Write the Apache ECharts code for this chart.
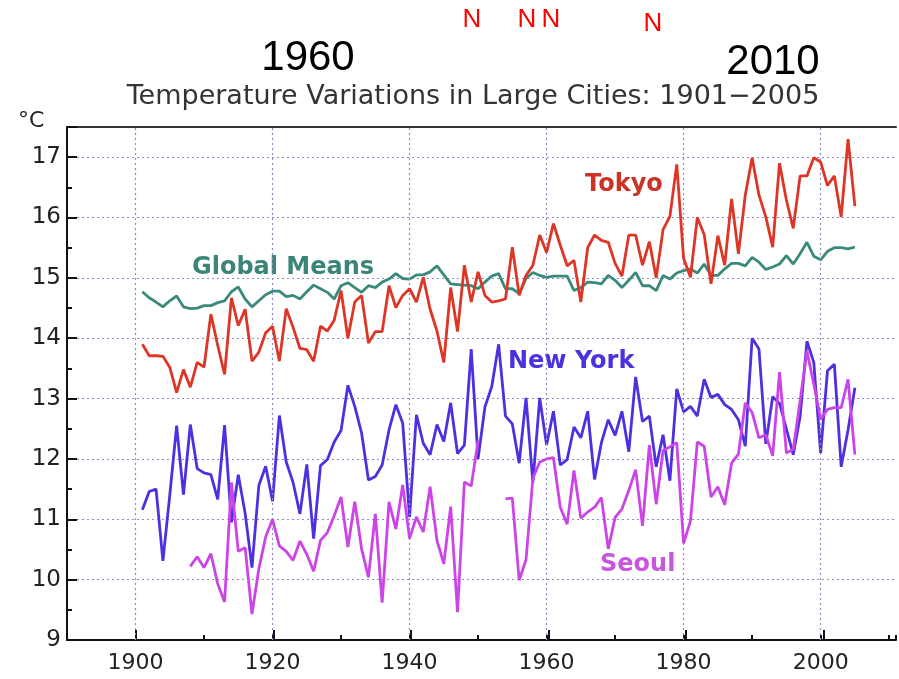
<!DOCTYPE html>
<html>
<head>
<meta charset="utf-8">
<script src="https://cdn.jsdelivr.net/npm/echarts@6/dist/echarts.min.js"></script>
<style>html,body{margin:0;padding:0;background:#fff}#c{width:899px;height:679px}</style>
</head>
<body>
<div id="c"></div>
<script>
const years = Array.from({length: 105}, (_, i) => 1901 + i);

const tokyo = [
13.9,13.71,13.71,13.7,13.52,13.1,13.48,13.19,13.6,13.52,
14.4,13.88,13.4,14.67,14.21,14.48,13.62,13.77,14.09,14.2,
13.62,14.49,14.18,13.83,13.81,13.62,14.2,14.12,14.3,14.79,
14.0,14.6,14.71,13.92,14.11,14.11,14.87,14.51,14.71,14.82,
14.6,15.01,14.48,14.12,13.6,14.84,14.11,15.21,14.6,15.1,
14.71,14.6,14.62,14.65,15.51,14.71,15.04,15.21,15.71,15.42,
15.9,15.54,15.2,15.29,14.6,15.5,15.71,15.62,15.59,15.24,
15.03,15.71,15.71,15.21,15.6,15.0,15.8,16.02,16.88,15.32,
15.01,16.0,15.72,14.9,15.7,15.21,16.31,15.4,16.37,16.99,
16.37,16.01,15.51,16.9,16.29,15.82,16.69,16.69,16.99,16.92,
16.53,16.69,16.01,17.3,16.19];

const globalMeans = [
14.77,14.67,14.6,14.52,14.62,14.7,14.52,14.49,14.5,14.54,
14.54,14.59,14.62,14.77,14.85,14.65,14.52,14.62,14.72,14.78,
14.78,14.69,14.71,14.65,14.77,14.88,14.82,14.76,14.65,14.87,
14.92,14.84,14.76,14.87,14.84,14.93,14.98,15.07,14.99,14.98,
15.05,15.05,15.1,15.2,15.05,14.9,14.89,14.88,14.87,14.82,
14.93,15.03,15.07,14.82,14.82,14.74,14.99,15.09,15.04,15.01,
15.03,15.03,15.03,14.79,14.84,14.93,14.92,14.9,15.04,14.96,
14.84,14.96,15.09,14.87,14.87,14.79,15.04,14.98,15.08,15.12,
15.15,15.08,15.23,15.04,15.04,15.15,15.24,15.24,15.2,15.34,
15.26,15.14,15.18,15.23,15.37,15.23,15.4,15.59,15.36,15.3,
15.44,15.5,15.5,15.48,15.51];

const newYork = [
11.16,11.46,11.5,10.31,11.4,12.55,11.41,12.57,11.84,11.77,
11.74,11.33,12.56,10.95,11.74,11.1,10.2,11.56,11.88,11.3,
12.72,11.95,11.61,11.09,11.91,10.68,11.89,11.99,12.28,12.47,
13.22,12.87,12.43,11.65,11.71,11.9,12.48,12.9,12.59,11.04,
12.73,12.26,12.07,12.57,12.29,12.93,12.09,12.23,13.82,12.0,
12.86,13.2,13.9,12.71,12.58,11.93,13.01,11.61,13.01,12.23,
12.79,11.9,11.99,12.53,12.35,12.79,11.66,12.27,12.65,12.39,
12.79,12.12,13.36,12.62,12.71,11.87,12.4,11.64,13.16,12.78,
12.87,12.71,13.32,13.02,13.07,12.9,12.82,12.65,12.21,14.0,
13.82,12.25,13.03,12.92,12.5,12.07,12.7,13.95,13.6,12.1,
13.46,13.57,11.87,12.48,13.18];

const seoul = [
null,null,null,null,null,null,null,10.22,10.38,10.2,
10.43,9.93,9.63,11.61,10.47,10.53,9.43,10.18,10.71,11.0,
10.56,10.47,10.32,10.64,10.42,10.14,10.65,10.78,11.06,11.37,
10.54,11.29,10.51,10.04,11.09,9.62,11.29,10.84,11.57,10.68,
11.04,10.79,11.54,10.65,10.26,11.21,9.46,11.62,11.55,12.3,
null,null,null,11.34,11.35,9.99,10.33,11.68,11.95,12.0,
12.02,11.2,10.92,11.81,11.02,11.12,11.2,11.36,10.51,11.03,
11.17,11.48,11.82,10.89,12.23,11.25,12.14,12.2,12.27,10.6,
10.97,12.28,12.21,11.37,11.54,11.24,11.93,12.08,12.93,12.77,
12.35,12.4,12.05,13.44,12.1,12.16,12.96,13.79,13.24,12.66,
12.82,12.85,12.85,13.32,12.07];

const gridYears = [1900, 1920, 1940, 1960, 1980, 2000];

function pairs(arr) { return years.map((y, i) => [y, arr[i]]); }

// layout: plot spans x 67..899 for years 1890..2011
const plotLeft = 67, plotRight = 0, plotTop = 127, plotBottom = 39;
const pxPerYear = (899 - plotLeft - plotRight) / (2011 - 1890);

const gridColor = '#8c8cc8';
const chart = echarts.init(document.getElementById('c'));
const labelFont = 'DejaVu Sans';
const narrow = 'Liberation Sans Narrow, Liberation Sans';

function txt(x, y, text, size, color, opts) {
  return {
    type: 'text', x: x, y: y, silent: true,
    style: Object.assign({text: text, fontSize: size, fill: color, fontFamily: labelFont,
      textAlign: 'left', textVerticalAlign: 'middle'}, (opts || {}))
  };
}

chart.setOption({
  animation: false,
  backgroundColor: '#fff',
  grid: [
    {left: plotLeft, right: plotRight, top: plotTop, bottom: plotBottom},
    {left: plotLeft + 10 * pxPerYear, right: 899 - plotLeft - 110 * pxPerYear, top: plotTop, bottom: plotBottom}
  ],
  xAxis: [{
    gridIndex: 0, type: 'value', min: 1890, max: 2011, interval: 10,
    axisLine: {show: true, lineStyle: {color: '#111', width: 2}},
    axisTick: {show: true, inside: true, length: 5, lineStyle: {color: '#111', width: 2}},
    axisLabel: {margin: 12, fontSize: 22, color: '#222', fontFamily: labelFont,
      formatter: v => (v % 20 === 0 && v >= 1900 && v <= 2000) ? String(v) : ''},
    splitLine: {show: false}
  }, {
    gridIndex: 0, type: 'value', position: 'top', min: 1890, max: 2011,
    axisLine: {show: true, lineStyle: {color: '#333', width: 2}},
    axisTick: {show: false}, axisLabel: {show: false}, splitLine: {show: false}
  }, {
    gridIndex: 1, type: 'value', min: 1900, max: 2000, interval: 20,
    axisLine: {show: false},
    axisTick: {show: true, inside: true, length: 10, lineStyle: {color: '#111', width: 2}},
    axisLabel: {show: false}, splitLine: {show: false}
  }],
  yAxis: [{
    gridIndex: 0, type: 'value', min: 9, max: 17.5, interval: 1,
    axisLine: {show: true, lineStyle: {color: '#111', width: 2}},
    axisTick: {show: true, inside: true, length: 10, lineStyle: {color: '#111', width: 2}},
    minorTick: {show: true, splitNumber: 2, length: 5, lineStyle: {color: '#111', width: 2}},
    axisLabel: {margin: 6, fontSize: 23, color: '#222', fontFamily: labelFont,
      formatter: v => Number.isInteger(v) ? String(v) : ''},
    splitLine: {show: true, lineStyle: {color: gridColor, type: [2, 3], width: 1.2}}
  }, {
    gridIndex: 1, type: 'value', min: 9, max: 17.5, show: false
  }],
  series: [
    {name: 'Global Means', type: 'line', data: pairs(globalMeans), showSymbol: false, z: 3,
      lineStyle: {color: '#3a8a7c', width: 2.8}, itemStyle: {color: '#3a8a7c'},
      markLine: {silent: true, symbol: ['none', 'none'], label: {show: false},
        lineStyle: {color: gridColor, type: [2, 3], width: 1.2},
        data: gridYears.map(y => ({xAxis: y}))}},
    {name: 'New York', type: 'line', data: pairs(newYork), showSymbol: false, z: 4,
      lineStyle: {color: '#4f30e0', width: 2.8}, itemStyle: {color: '#4f30e0'}},
    {name: 'Seoul', type: 'line', data: pairs(seoul), showSymbol: false, connectNulls: false, z: 5,
      lineStyle: {color: '#cc44e8', width: 2.8}, itemStyle: {color: '#cc44e8'}},
    {name: 'Tokyo', type: 'line', data: pairs(tokyo), showSymbol: false, z: 6,
      lineStyle: {color: '#dd3526', width: 2.8}, itemStyle: {color: '#dd3526'}}
  ],
  graphic: [
    txt(473, 97, 'Temperature Variations in Large Cities: 1901\u22122005', 27, '#333', {textAlign: 'center'}),
    txt(18, 121, '\u00B0C', 22, '#222'),
    txt(308, 58, '1960', 42, '#000', {textAlign: 'center', fontFamily: narrow}),
    txt(773, 62, '2010', 42, '#000', {textAlign: 'center', fontFamily: narrow}),
    txt(472, 20, 'N', 26, '#ff0000', {textAlign: 'center', fontFamily: narrow}),
    txt(527, 20, 'N', 26, '#ff0000', {textAlign: 'center', fontFamily: narrow}),
    txt(551, 20, 'N', 26, '#ff0000', {textAlign: 'center', fontFamily: narrow}),
    txt(653, 24, 'N', 26, '#ff0000', {textAlign: 'center', fontFamily: narrow}),
    txt(585, 185, 'Tokyo', 24, '#cc3324', {fontWeight: 'bold'}),
    txt(192, 268, 'Global Means', 24, '#3a8577', {fontWeight: 'bold'}),
    txt(508, 362, 'New York', 24, '#4a33dd', {fontWeight: 'bold'}),
    txt(600, 565, 'Seoul', 24, '#c855dd', {fontWeight: 'bold'})
  ]
});
</script>
</body>
</html>
